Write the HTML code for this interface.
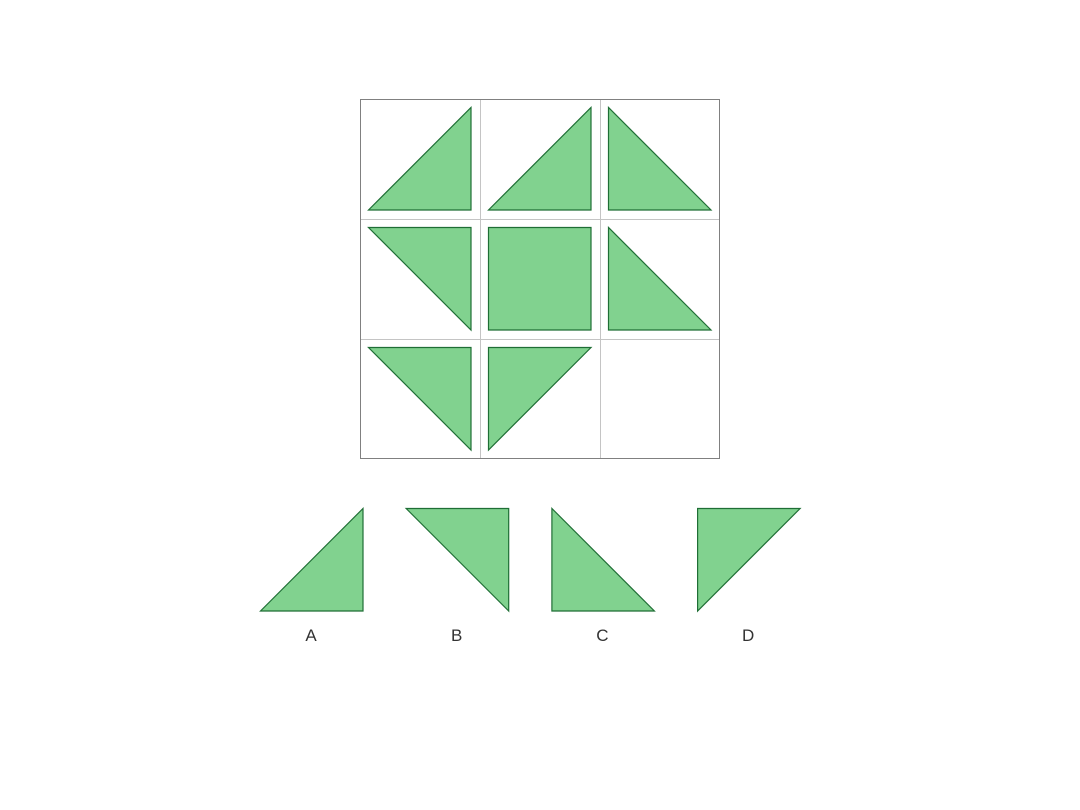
<!DOCTYPE html>
<html><head><meta charset="utf-8"><style>
html,body{margin:0;padding:0;background:#fff;}
svg{display:block;}
</style></head><body>
<svg id="fig" width="1080" height="810" xmlns="http://www.w3.org/2000/svg"></svg>
<script>
const cellTypes = ['BR','BR','BL','TR','SQ','BL','TR','TL',''];
const optionTypes = ['BR','TR','BL','TL'];
const optionLabels = ['A','B','C','D'];
const NS='http://www.w3.org/2000/svg';
const svg=document.getElementById('fig');
function shapePts(t,x,y){
  const a=8.5,b=111;
  const P={BR:[[a,b],[b,a],[b,b]],BL:[[a,a],[a,b],[b,b]],TR:[[a,a],[b,a],[b,b]],TL:[[a,a],[b,a],[a,b]],SQ:[[a,a],[b,a],[b,b],[a,b]]}[t];
  return P.map(p=>(x+p[0])+','+(y+p[1])).join(' ');
}
function addShape(t,x,y,name){
  if(!t) return;
  const p=document.createElementNS(NS,'polygon');
  p.setAttribute('points',shapePts(t,x,y));
  p.setAttribute('fill','#81d28f');
  p.setAttribute('stroke','#1f6e35');
  p.setAttribute('stroke-width','1.2');
  
  
  svg.appendChild(p);
}
// grid lines
for(let i=1;i<3;i++){
  const v=document.createElementNS(NS,'line');
  v.setAttribute('x1',360+120*i+0.5);v.setAttribute('x2',360+120*i+0.5);
  v.setAttribute('y1',99);v.setAttribute('y2',459);
  v.setAttribute('stroke','#c4c4c4');
  
  
  svg.appendChild(v);
  const h=document.createElementNS(NS,'line');
  h.setAttribute('y1',99+120*i+0.5);h.setAttribute('y2',99+120*i+0.5);
  h.setAttribute('x1',360);h.setAttribute('x2',719);
  h.setAttribute('stroke','#c4c4c4');
  
  
  svg.appendChild(h);
}
const border=document.createElementNS(NS,'rect');
border.setAttribute('x',360.5);border.setAttribute('y',99.5);
border.setAttribute('width',359);border.setAttribute('height',359);
border.setAttribute('fill','none');border.setAttribute('stroke','#808080');


svg.appendChild(border);
cellTypes.forEach((t,i)=>{
  addShape(t,360+120*(i%3),99+120*Math.floor(i/3),'cell-shape-'+(i+1));
});
optionTypes.forEach((t,i)=>{
  const x=252+145.7*i;
  addShape(t,x,500,'option-shape-'+optionLabels[i].toLowerCase());
  const tx=document.createElementNS(NS,'text');
  tx.setAttribute('x',x+59);tx.setAttribute('y',641);
  tx.setAttribute('text-anchor','middle');
  tx.setAttribute('font-family','Liberation Sans, sans-serif');
  tx.setAttribute('font-size','17');
  tx.setAttribute('fill','#333');
  tx.textContent=optionLabels[i];
  
  
  svg.appendChild(tx);
});
</script>
</body></html>
